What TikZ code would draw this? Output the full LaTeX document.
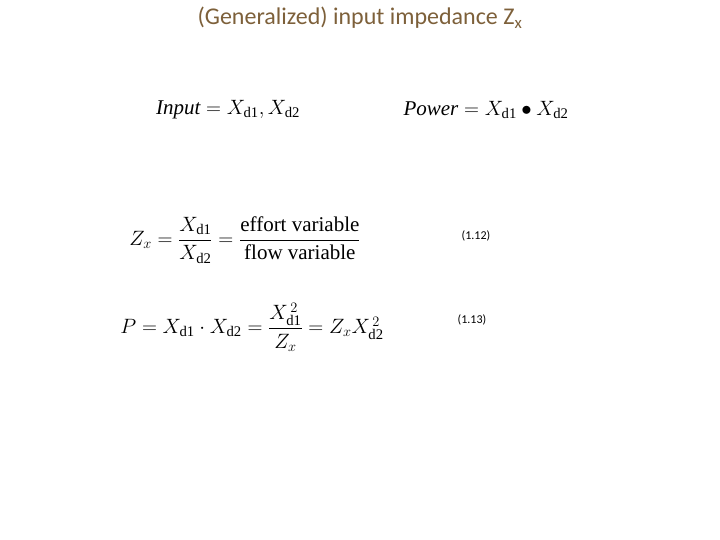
\documentclass[tikz,border=0pt]{standalone}
\usepackage{amsmath}
\usepackage{fontspec}
\setmainfont{Liberation Serif}
\newfontfamily\calfont{Carlito}
\definecolor{titlec}{RGB}{125,96,58}
\begin{document}
\begin{tikzpicture}[x=1pt,y=-1pt,
 eq/.style={font=\fontsize{21}{24}\selectfont},
 num/.style={font=\calfont\fontsize{12}{14}\selectfont}]
\useasboundingbox (0,0) rectangle (720,540);
\node[font=\calfont\fontsize{24}{28}\selectfont,text=titlec] (t) at (360,18) {(Generalized) input impedance Z\textsubscript{x}};
\node[eq] (in) at (228,110) {$\mathit{Input}=X_{\mathrm{d1}},X_{\mathrm{d2}}$};
\node[eq] (pw) at (486,110) {$\mathit{Power}=X_{\mathrm{d1}}\bullet X_{\mathrm{d2}}$};
\node[eq] (zx) at (245,240) {$Z_x=\dfrac{X_{\mathrm{d1}}}{X_{\mathrm{d2}}}=\dfrac{\text{effort variable}}{\text{flow variable}}$};
\node[num] (n1) at (476,236) {(1.12)};
\node[eq] (p) at (252,327) {$P=X_{\mathrm{d1}}\cdot X_{\mathrm{d2}}=\dfrac{X_{\mathrm{d1}}^{\,2}}{Z_x}=Z_xX_{\mathrm{d2}}^{\,2}$};
\node[num] (n2) at (472,320) {(1.13)};
\end{tikzpicture}
\end{document}
